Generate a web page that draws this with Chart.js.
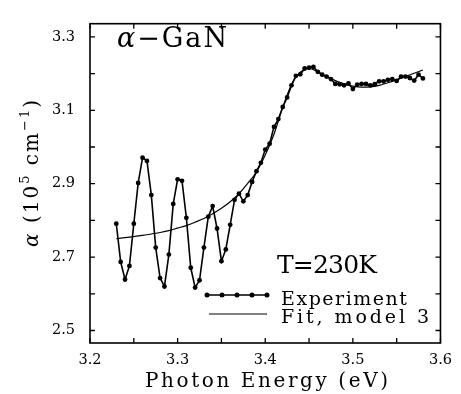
<!DOCTYPE html>
<html><head><meta charset="utf-8">
<script src="https://cdn.jsdelivr.net/npm/chart.js@4/dist/chart.umd.min.js"></script>
<style>html,body{margin:0;padding:0;background:#fff}#wrap{width:461px;height:394px}</style>
</head><body><div id="wrap"><canvas id="c" width="461" height="394"></canvas></div>
<script>
const energy = [
3.230,3.235,3.240,3.245,3.250,3.255,3.260,3.265,3.270,3.275,
3.280,3.285,3.290,3.295,3.300,3.305,3.310,3.315,3.320,3.325,
3.330,3.335,3.340,3.345,3.350,3.355,3.360,3.365,3.370,3.375,
3.380,3.385,3.390,3.395,3.400,3.405,3.410,3.415,3.420,3.425,
3.430,3.435,3.440,3.445,3.450,3.455,3.460,3.465,3.470,3.475,
3.480,3.485,3.490,3.495,3.500,3.505,3.510,3.515,3.520,3.525,
3.530,3.535,3.540,3.545,3.550,3.555,3.560,3.565,3.570,3.575,
3.580];
const alphaExp = [
2.791,2.687,2.639,2.676,2.791,2.902,2.971,2.962,2.869,2.726,
2.643,2.620,2.707,2.845,2.912,2.908,2.807,2.671,2.617,2.637,
2.726,2.810,2.839,2.778,2.689,2.721,2.788,2.856,2.873,2.852,
2.869,2.905,2.934,2.957,2.993,3.009,3.055,3.076,3.109,3.135,
3.168,3.194,3.198,3.214,3.216,3.218,3.205,3.197,3.192,3.185,
3.172,3.171,3.168,3.173,3.158,3.170,3.172,3.172,3.168,3.171,
3.179,3.179,3.183,3.185,3.180,3.192,3.192,3.188,3.181,3.197,
3.187];
const fitEnergy = [3.23,3.24,3.25,3.26,3.27,3.28,3.29,3.30,3.31,3.32,3.33,3.34,3.35,3.36,3.37,3.38,3.39,3.40,3.41,3.42,3.43,3.44,3.45,3.46,3.47,3.48,3.49,3.50,3.51,3.52,3.53,3.54,3.55,3.56,3.57,3.58];
const fitAlpha = [2.750,2.753,2.756,2.759,2.763,2.767,2.772,2.779,2.786,2.795,2.805,2.818,2.833,2.851,2.873,2.901,2.932,2.978,3.035,3.108,3.170,3.204,3.214,3.205,3.192,3.181,3.172,3.166,3.163,3.164,3.168,3.175,3.183,3.192,3.201,3.210];
const xTickValues = [3.2,3.3,3.4,3.5,3.6];
const xMinorTickValues = [3.25,3.35,3.45,3.55];
const yTickValues = [2.5,2.7,2.9,3.1,3.3];
const yMinorTickValues = [2.6,2.8,3.0,3.2];
const seriesNames = ['Experiment','Fit, model 3'];
const sampleLabel = ['α','−GaN'];
const tempLabel = 'T=230K';
const xTitle = 'Photon Energy (eV)';
const yTitleParts = ['α',' (10','5',' cm','−1',')'];

const SERIF = "'DejaVu Serif'";

function drawRun(ctx, segs, x, y, target, rotated) {
  let natural = 0, n = 0;
  segs.forEach(s => {
    ctx.font = (s.italic ? 'italic ' : '') + s.size + 'px ' + SERIF;
    s.chars = [...s.t].map(ch => ({ch, w: ctx.measureText(ch).width}));
    s.chars.forEach(c => { natural += c.w; n++; });
  });
  const sp = target ? (target - natural) / Math.max(1, n - 1) : 0;
  let cx = 0;
  ctx.save();
  ctx.translate(x, y);
  if (rotated) ctx.rotate(-Math.PI / 2);
  ctx.textBaseline = 'alphabetic';
  ctx.textAlign = 'left';
  ctx.fillStyle = '#000';
  segs.forEach(s => {
    ctx.font = (s.italic ? 'italic ' : '') + s.size + 'px ' + SERIF;
    s.chars.forEach(c => {
      ctx.fillText(c.ch, cx, -(s.rise || 0));
      cx += c.w + sp;
    });
  });
  ctx.restore();
}

const decor = {
  id: 'decor',
  afterDraw(chart) {
    const ctx = chart.ctx, a = chart.chartArea;
    const xs = chart.scales.x, ys = chart.scales.y;
    ctx.save();
    ctx.strokeStyle = '#000';
    ctx.lineWidth = 1.6;
    ctx.strokeRect(a.left, a.top, a.right - a.left, a.bottom - a.top);
    ctx.lineWidth = 1.3;
    const tl = 5;
    ctx.beginPath();
    [...xTickValues, ...xMinorTickValues].forEach(v => {
      const p = xs.getPixelForValue(v);
      ctx.moveTo(p, a.bottom); ctx.lineTo(p, a.bottom - tl);
      ctx.moveTo(p, a.top); ctx.lineTo(p, a.top + tl);
    });
    [...yTickValues, ...yMinorTickValues].forEach(v => {
      const p = ys.getPixelForValue(v);
      ctx.moveTo(a.left, p); ctx.lineTo(a.left + tl, p);
      ctx.moveTo(a.right, p); ctx.lineTo(a.right - tl, p);
    });
    ctx.stroke();

    ctx.lineWidth = 1.6;
    ctx.beginPath(); ctx.moveTo(207, 295); ctx.lineTo(267, 295); ctx.stroke();
    ctx.fillStyle = '#000';
    [207, 222, 237, 252, 267].forEach(px => { ctx.beginPath(); ctx.arc(px, 295, 2.5, 0, Math.PI * 2); ctx.fill(); });
    ctx.lineWidth = 1.2;
    ctx.beginPath(); ctx.moveTo(209, 314); ctx.lineTo(267, 314); ctx.stroke();
    ctx.restore();

    drawRun(ctx, [{t: sampleLabel[0], size: 27, italic: true}, {t: sampleLabel[1], size: 27}], 117, 47, 110);
    drawRun(ctx, [{t: tempLabel, size: 25}], 277, 273, 100);
    drawRun(ctx, [{t: seriesNames[0], size: 19}], 281, 305, 126);
    drawRun(ctx, [{t: seriesNames[1], size: 19}], 281, 323, 148);
    drawRun(ctx, [{t: xTitle, size: 20}], 145, 387, 243);
    drawRun(ctx, [
      {t: yTitleParts[0], size: 20, italic: true},
      {t: yTitleParts[1], size: 20},
      {t: yTitleParts[2], size: 13, rise: 9},
      {t: yTitleParts[3], size: 20},
      {t: yTitleParts[4], size: 13, rise: 9},
      {t: yTitleParts[5], size: 20}
    ], 38, 247, 147, true);
  }
};

new Chart(document.getElementById('c'), {
  type: 'line',
  data: {
    datasets: [
      {
        label: seriesNames[0],
        data: energy.map((e, i) => ({x: e, y: alphaExp[i]})),
        borderColor: '#000', borderWidth: 1.6,
        pointRadius: 2.4, pointBackgroundColor: '#000', pointBorderWidth: 0,
        tension: 0, fill: false
      },
      {
        label: seriesNames[1],
        data: fitEnergy.map((e, i) => ({x: e, y: fitAlpha[i]})),
        borderColor: '#000', borderWidth: 1.2,
        pointRadius: 0, cubicInterpolationMode: 'monotone', fill: false
      }
    ]
  },
  options: {
    responsive: false,
    devicePixelRatio: 1,
    animation: false,
    layout: {padding: {top: 9, right: 14, left: 0, bottom: 0}},
    plugins: {legend: {display: false}, tooltip: {enabled: false}},
    scales: {
      x: {
        type: 'linear', min: 3.2, max: 3.6,
        afterBuildTicks: s => { s.ticks = xTickValues.map(v => ({value: v})); },
        afterFit: s => { s.height = 51; },
        grid: {display: false, drawTicks: false},
        border: {display: false},
        ticks: {padding: 9, color: '#000', font: {family: SERIF, size: 14.5}, maxRotation: 0, autoSkip: false,
          callback: v => Number(v).toFixed(1)}
      },
      y: {
        type: 'linear', min: 2.466, max: 3.336,
        afterBuildTicks: s => { s.ticks = yTickValues.map(v => ({value: v})); },
        afterFit: s => { s.width = 90; },
        grid: {display: false, drawTicks: false},
        border: {display: false},
        ticks: {padding: 15, color: '#000', font: {family: SERIF, size: 14.5}, autoSkip: false,
          callback: v => Number(v).toFixed(1)}
      }
    }
  },
  plugins: [decor]
});
</script>
</body></html>
